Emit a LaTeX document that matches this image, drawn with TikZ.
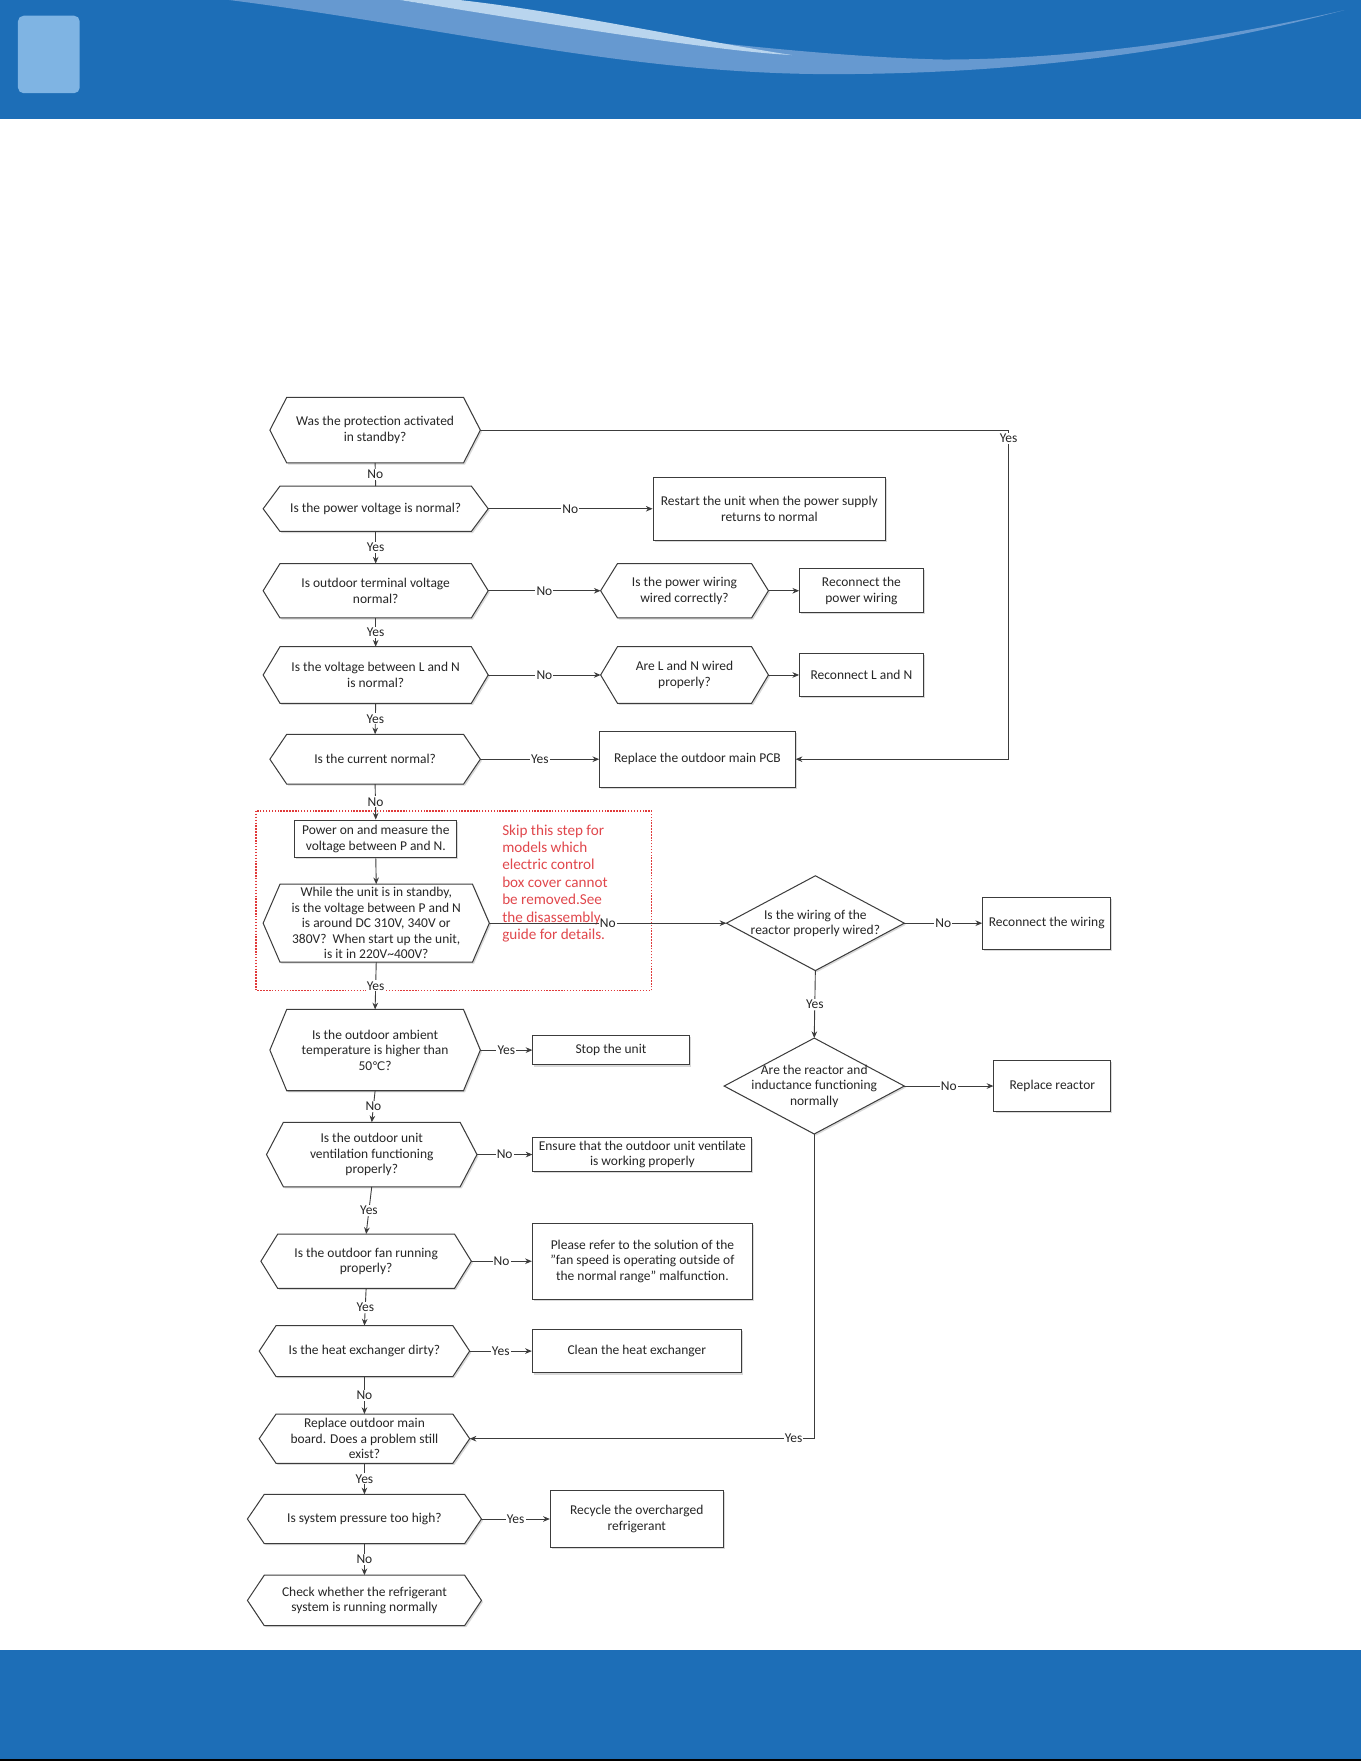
\documentclass[tikz,border=0pt]{standalone}
\usepackage{fontspec}
\setmainfont{Carlito}
\newfontfamily\symbolfont{DejaVu Sans}
\usetikzlibrary{arrows.meta,shadows,backgrounds}

\definecolor{bandblue}{HTML}{1D6EB7}
\definecolor{wavemid}{HTML}{6699D0}
\definecolor{wavelight}{HTML}{B9D5EE}
\definecolor{tabblue}{HTML}{7FB4E3}
\definecolor{linegray}{HTML}{3C3C3C}
\definecolor{notered}{HTML}{E0474C}
\definecolor{framered}{HTML}{E03A3A}

% outlines drawn round plain text nodes
\newcommand{\hexoutline}[1]{(#1.west) -- ([xshift=15pt]#1.north west) -- ([xshift=-15pt]#1.north east)
  -- (#1.east) -- ([xshift=-15pt]#1.south east) -- ([xshift=15pt]#1.south west) -- cycle}
\newcommand{\diaoutline}[1]{(#1.west) -- (#1.north) -- (#1.east) -- (#1.south) -- cycle}

\begin{document}
\begin{tikzpicture}[x=1pt, y=-1pt,
  flowfont/.style={font=\fontsize{12}{13.8}\selectfont},
  question/.style={flowfont, align=center, inner sep=0pt, text=black!85},
  action/.style={flowfont, rectangle, draw=linegray, fill=white, line width=0.9pt,
                 align=center, inner sep=1pt, text=black!85,
                 drop shadow={shadow xshift=1.4pt, shadow yshift=-1.4pt, opacity=0.3}},
  outline/.style={draw=linegray, fill=white, line width=0.9pt,
                  drop shadow={shadow xshift=1.4pt, shadow yshift=-1.4pt, opacity=0.3}},
  plain/.style={draw=linegray, line width=0.8pt},
  flow/.style={plain, -{Stealth[length=6pt, width=5pt]}},
  lbl/.style={flowfont, fill=white, inner sep=1pt, text=black!85},
  note/.style={font=\fontsize{13.5}{15.5}\selectfont, align=left, text=notered, inner sep=0pt},
]
  \useasboundingbox (0,0) rectangle (1212,1568);

  % Header band with wave
  \fill[bandblue] (0,0) rectangle (1212,106);
  \fill[wavemid] (204,0) .. controls (400,25) and (560,66) .. (740,66)
    .. controls (930,66) and (1080,40) .. (1197,9)
    .. controls (1080,36) and (950,53) .. (840,53)
    .. controls (700,50) and (480,20) .. (356,0) -- cycle;
  \fill[wavelight] (356,0) .. controls (480,20) and (640,46) .. (705,49)
    .. controls (620,36) and (500,10) .. (409,0) -- cycle;
  \fill[tabblue, rounded corners=5pt] (16,14) rectangle (71,83);

  % Footer band
  \fill[bandblue] (0,1469.5) rectangle (1212,1566.5);
  \fill[black] (0,1566.5) rectangle (1212,1568);

  % Dotted frame round the P-N check
  \draw[framered, line width=1.3pt, dash pattern=on 1.3pt off 1.3pt] (228,722) rectangle (580,882);

  % Main column of checks
  \node[question, minimum width=187pt, minimum height=58pt] (q1) at (334,383)
        {Was the protection activated\\in standby?};
  \node[question, minimum width=200pt, minimum height=40pt] (q2) at (334.5,453)
        {Is the power voltage is normal?};
  \node[question, minimum width=200pt, minimum height=48pt] (q3) at (334.5,526)
        {Is outdoor terminal voltage\\normal?};
  \node[question, minimum width=200pt, minimum height=50pt] (q4) at (334.5,601)
        {Is the voltage between L and N\\is normal?};
  \node[question, minimum width=187pt, minimum height=44pt] (q5) at (334,676)
        {Is the current normal?};
  \node[action, minimum width=144pt, minimum height=33.5pt] (b6) at (334.6,747)
        {Power on and measure the\\voltage between P and N.};
  \node[question, minimum width=201pt, minimum height=69pt] (q7) at (335,822)
        {While the unit is in standby,\\is the voltage between P and N\\is around DC 310V, 340V or\\380V?\ \ When start up the unit,\\is it in 220V\textasciitilde400V?};
  \node[question, minimum width=187pt, minimum height=72pt] (q8) at (334,935)
        {Is the outdoor ambient\\temperature is higher than\\50{\symbolfont\fontsize{10.5}{13.8}\selectfont ℃}?};
  \node[question, minimum width=187pt, minimum height=57pt] (q9) at (331,1028)
        {Is the outdoor unit\\ventilation functioning\\properly?};
  \node[question, minimum width=187pt, minimum height=48pt] (q10) at (326,1123)
        {Is the outdoor fan running\\properly?};
  \node[question, minimum width=187pt, minimum height=45pt] (q11) at (324.5,1203)
        {Is the heat exchanger dirty?};
  \node[question, minimum width=187pt, minimum height=43.5pt] (q12) at (324.5,1281)
        {Replace outdoor main\\board. Does a problem still\\exist?};
  \node[question, minimum width=208pt, minimum height=43.5pt] (q13) at (324.5,1352.5)
        {Is system pressure too high?};
  \node[question, minimum width=208pt, minimum height=44.5pt] (q14) at (324.5,1425)
        {Check whether the refrigerant\\system is running normally};

  % Wiring checks
  \node[question, minimum width=149pt, minimum height=48pt] (q3b) at (609.5,526)
        {Is the power wiring\\wired correctly?};
  \node[question, minimum width=149pt, minimum height=50pt] (q4b) at (609.5,601)
        {Are L and N wired\\properly?};

  % Reactor checks
  \node[question, minimum width=158pt, minimum height=84pt] (d1) at (726,822)
        {Is the wiring of the\\reactor properly wired?};
  \node[question, minimum width=160pt, minimum height=85pt] (d2) at (725,967)
        {Are the reactor and\\inductance functioning\\normally};

  % Actions
  \node[action, minimum width=207pt, minimum height=56pt] (r1) at (685,453)
        {Restart the unit when the power supply\\returns to normal};
  \node[action, minimum width=110pt, minimum height=39pt] (r3) at (767,526)
        {Reconnect the\\power wiring};
  \node[action, minimum width=110pt, minimum height=38pt] (r4) at (767,601)
        {Reconnect L and N};
  \node[action, minimum width=174pt, minimum height=50pt] (r5) at (621,676)
        {Replace the outdoor main PCB};
  \node[action, minimum width=114pt, minimum height=46pt] (r6) at (932,822)
        {Reconnect the wiring};
  \node[action, minimum width=104pt, minimum height=46pt] (r7) at (937,967)
        {Replace reactor};
  \node[action, minimum width=139pt, minimum height=26.5pt] (r8) at (544,935)
        {Stop the unit};
  \node[action, minimum width=195pt, minimum height=30.5pt] (r9) at (572,1028)
        {Ensure that the outdoor unit ventilate\\is working properly};
  \node[action, minimum width=196pt, minimum height=67.5pt] (r10) at (572,1123)
        {Please refer to the solution of the\\"fan speed is operating outside of\\the normal range" malfunction.};
  \node[action, minimum width=186pt, minimum height=39pt] (r11) at (567,1203)
        {Clean the heat exchanger};
  \node[action, minimum width=154pt, minimum height=51pt] (r13) at (567,1352.5)
        {Recycle the overcharged\\refrigerant};

  % Red remark inside the frame
  \node[note, anchor=north west] (skipnote) at (447,734)
        {Skip this step for\\models which\\electric control\\box cover cannot\\be removed.See\\the disassembly\\guide for details.};

  % Shapes behind the question texts
  \begin{scope}[on background layer]
    \foreach \q in {q1,q2,q3,q4,q5,q7,q8,q9,q10,q11,q12,q13,q14,q3b,q4b}
      \draw[outline] \hexoutline{\q};
    \foreach \d in {d1,d2}
      \draw[outline] \diaoutline{\d};
  \end{scope}

  \coordinate (yesrail) at (898,383);

  % Connectors, main column
  \draw[plain] (q1.south) -- node[lbl] {No} (q2.north);
  \draw[flow] (q2.south) -- node[lbl] {Yes} (q3.north);
  \draw[flow] (q3.south) -- node[lbl] {Yes} (q4.north);
  \draw[flow] (q4.south) -- node[lbl] {Yes} (q5.north);
  \draw[flow] (q5.south) -- node[lbl] {No} (b6.north);
  \draw[flow] (b6.south) -- (q7.north);
  \draw[flow] (q7.south) -- node[lbl] {Yes} (q8.north);
  \draw[flow] (q8.south) -- node[lbl] {No} (q9.north);
  \draw[flow] (q9.south) -- node[lbl] {Yes} (q10.north);
  \draw[flow] (q10.south) -- node[lbl] {Yes} (q11.north);
  \draw[flow] (q11.south) -- node[lbl] {No} (q12.north);
  \draw[flow] (q12.south) -- node[lbl] {Yes} (q13.north);
  \draw[flow] (q13.south) -- node[lbl] {No} (q14.north);

  % Connectors to the right
  \draw[flow] (q2.east) -- node[lbl] {No} (r1.west);
  \draw[flow] (q3.east) -- node[lbl] {No} (q3b.west);
  \draw[flow] (q3b.east) -- (r3.west);
  \draw[flow] (q4.east) -- node[lbl] {No} (q4b.west);
  \draw[flow] (q4b.east) -- (r4.west);
  \draw[flow] (q5.east) -- node[lbl] {Yes} (r5.west);
  \draw[flow] (q1.east) -- (yesrail) |- node[lbl, pos=0.012] {Yes} (r5.east);
  \draw[flow] (q7.east) -- node[lbl] {No} (d1.west);
  \draw[flow] (d1.east) -- node[lbl] {No} (r6.west);
  \draw[flow] (d1.south) -- node[lbl] {Yes} (d2.north);
  \draw[flow] (d2.east) -- node[lbl] {No} (r7.west);
  \draw[flow] (d2.south) |- node[lbl, pos=0.53] {Yes} (q12.east);
  \draw[flow] (q8.east) -- node[lbl] {Yes} (r8.west);
  \draw[flow] (q9.east) -- node[lbl] {No} (r9.west);
  \draw[flow] (q10.east) -- node[lbl] {No} (r10.west);
  \draw[flow] (q11.east) -- node[lbl] {Yes} (r11.west);
  \draw[flow] (q13.east) -- node[lbl] {Yes} (r13.west);

\end{tikzpicture}
\end{document}
